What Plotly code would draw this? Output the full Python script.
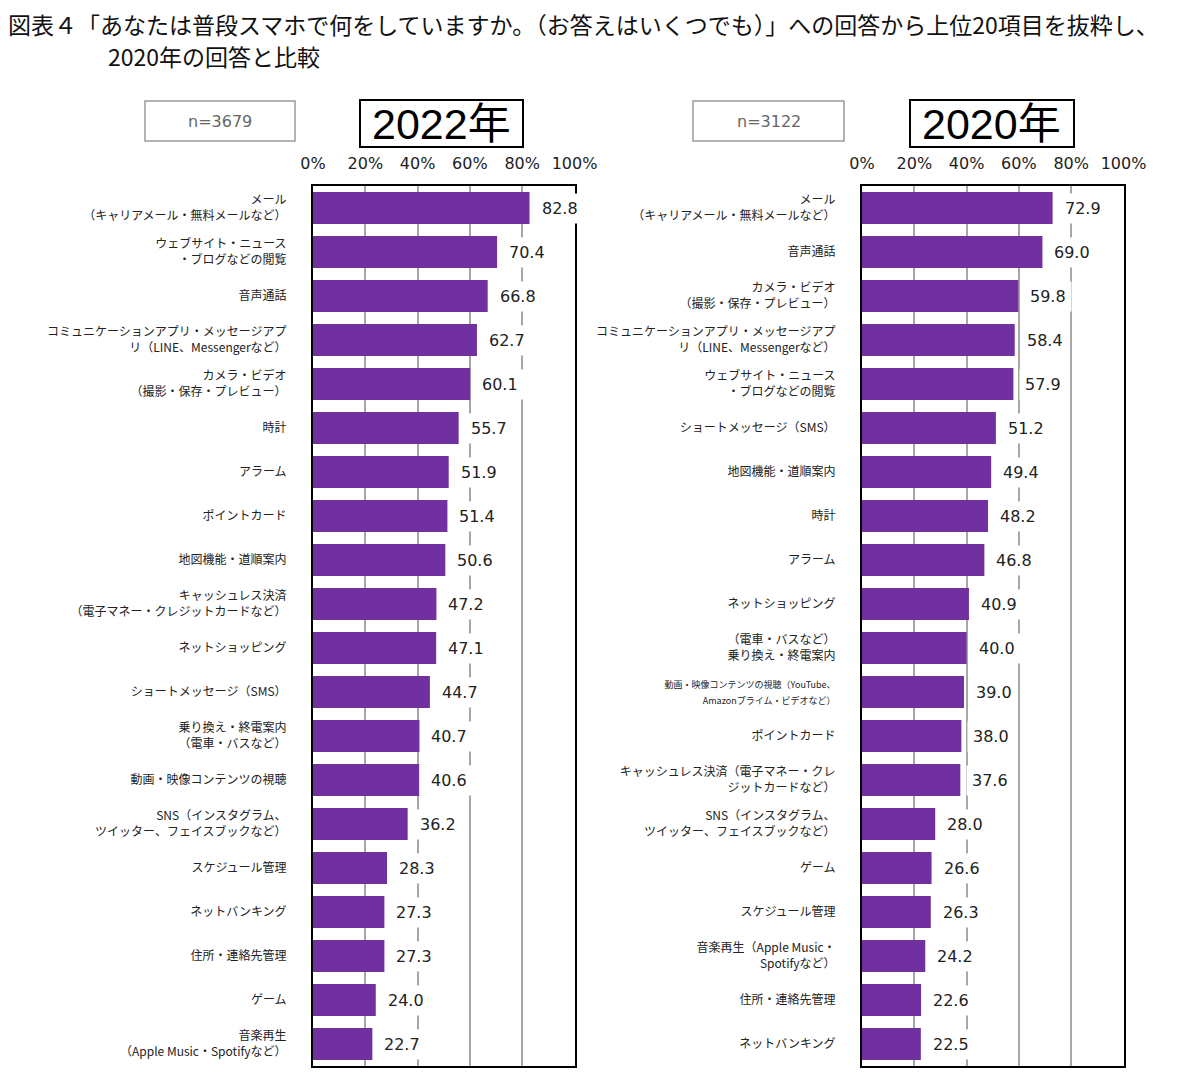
import plotly.graph_objects as go
from plotly.subplots import make_subplots

# The page has an 8px body margin; the figure is sized to fit inside it.
OFF = 8
W, H = 1200 - 2 * OFF, 1081 - 2 * OFF


def px(x):
    return (x - OFF) / W


def py(y):
    return 1 - (y - OFF) / H


labels_2022 = [
    "メール<br>（キャリアメール・無料メールなど）",
    "ウェブサイト・ニュース<br>・ブログなどの閲覧",
    "音声通話",
    "コミュニケーションアプリ・メッセージアプ<br>リ（LINE、Messengerなど）",
    "カメラ・ビデオ<br>（撮影・保存・プレビュー）",
    "時計",
    "アラーム",
    "ポイントカード",
    "地図機能・道順案内",
    "キャッシュレス決済<br>（電子マネー・クレジットカードなど）",
    "ネットショッピング",
    "ショートメッセージ（SMS）",
    "乗り換え・終電案内<br>（電車・バスなど）",
    "動画・映像コンテンツの視聴",
    "SNS（インスタグラム、<br>ツイッター、フェイスブックなど）",
    "スケジュール管理",
    "ネットバンキング",
    "住所・連絡先管理",
    "ゲーム",
    "音楽再生<br>（Apple Music・Spotifyなど）",
]
values_2022 = [82.8, 70.4, 66.8, 62.7, 60.1, 55.7, 51.9, 51.4, 50.6, 47.2,
               47.1, 44.7, 40.7, 40.6, 36.2, 28.3, 27.3, 27.3, 24.0, 22.7]

labels_2020 = [
    "メール<br>（キャリアメール・無料メールなど）",
    "音声通話",
    "カメラ・ビデオ<br>（撮影・保存・プレビュー）",
    "コミュニケーションアプリ・メッセージアプ<br>リ（LINE、Messengerなど）",
    "ウェブサイト・ニュース<br>・ブログなどの閲覧",
    "ショートメッセージ（SMS）",
    "地図機能・道順案内",
    "時計",
    "アラーム",
    "ネットショッピング",
    "（電車・バスなど）<br>乗り換え・終電案内",
    "<span style='font-size:9px'>動画・映像コンテンツの視聴（YouTube、</span><br><span style='font-size:9px'>Amazonプライム・ビデオなど）</span>",
    "ポイントカード",
    "キャッシュレス決済（電子マネー・クレ<br>ジットカードなど）",
    "SNS（インスタグラム、<br>ツイッター、フェイスブックなど）",
    "ゲーム",
    "スケジュール管理",
    "音楽再生（Apple Music・<br>Spotifyなど）",
    "住所・連絡先管理",
    "ネットバンキング",
]
values_2020 = [72.9, 69.0, 59.8, 58.4, 57.9, 51.2, 49.4, 48.2, 46.8, 40.9,
               40.0, 39.0, 38.0, 37.6, 28.0, 26.6, 26.3, 24.2, 22.6, 22.5]

x_ticks = [0, 20, 40, 60, 80, 100]
x_tick_text = ["0%", "20%", "40%", "60%", "80%", "100%"]
titles = ["2022年", "2020年"]
n_labels = ["n=3679", "n=3122"]

BAR = "#7030A0"
JP = "Noto Sans CJK JP"
NUM = "DejaVu Sans"

fig = make_subplots(rows=1, cols=2)

for col, (labs, vals) in enumerate([(labels_2022, values_2022), (labels_2020, values_2020)], start=1):
    fig.add_trace(go.Bar(
        x=vals, y=labs, orientation="h",
        marker=dict(color=BAR, line=dict(width=0)),
        hoverinfo="skip", showlegend=False,
    ), row=1, col=col)
    xa = "x" if col == 1 else "x2"
    ya = "y" if col == 1 else "y2"
    for lab, v in zip(labs, vals):
        fig.add_annotation(
            x=v, y=lab, xref=xa, yref=ya, text=f"{v:.1f}",
            showarrow=False, xanchor="left", yanchor="middle", xshift=6,
            bgcolor="white", borderpad=5,
            font=dict(family=NUM, size=16, color="#222"),
        )

ydom = [py(1066), py(186)]
xdoms = [[px(313), px(574.5)], [px(862), px(1123.5)]]

layout_axes = {}
for i, dom in enumerate(xdoms):
    suffix = "" if i == 0 else "2"
    layout_axes[f"xaxis{suffix}"] = dict(
        domain=dom, range=[0, 100], side="top", automargin=False,
        tickmode="array", tickvals=x_ticks, ticktext=x_tick_text, ticks="",
        tickfont=dict(family=NUM, size=16, color="#222"),
        showgrid=True, gridcolor="#a8a8a8", gridwidth=1.5,
        showline=True, linecolor="black", linewidth=2, mirror=True,
        zeroline=False, fixedrange=True, ticklabelstandoff=9,
    )
    layout_axes[f"yaxis{suffix}"] = dict(
        domain=ydom, autorange="reversed", automargin=False,
        showline=True, linecolor="black", linewidth=2, mirror=True,
        showgrid=False, ticks="", ticklabelstandoff=22,
        tickfont=dict(family=JP, size=12, color="#222"),
        fixedrange=True,
    )

fig.update_layout(
    width=W, height=H, autosize=False,
    margin=dict(l=0, r=0, t=0, b=0, pad=0),
    paper_bgcolor="white", plot_bgcolor="white",
    bargap=0.27,
    **layout_axes,
)

# Title
fig.add_annotation(
    xref="paper", yref="paper", x=px(6), y=py(24), xanchor="left", yanchor="middle",
    text="図表４「あなたは普段スマホで何をしていますか。（お答えはいくつでも）」への回答から上位20項目を抜粋し、",
    showarrow=False, font=dict(family=JP, size=23, color="#111"),
)
fig.add_annotation(
    xref="paper", yref="paper", x=px(106), y=py(56), xanchor="left", yanchor="middle",
    text="2020年の回答と比較",
    showarrow=False, font=dict(family=JP, size=23, color="#111"),
)

boxes_n = [(145, 295), (693, 844)]
boxes_y = [(360, 523), (910, 1074)]
for i in range(2):
    x0, x1 = boxes_n[i]
    fig.add_shape(type="rect", xref="paper", yref="paper",
                  x0=px(x0), x1=px(x1), y0=py(141), y1=py(101),
                  line=dict(color="#9a9a9a", width=1.5), fillcolor="white")
    fig.add_annotation(xref="paper", yref="paper", x=px((x0 + x1) / 2), y=py(121),
                       xanchor="center", yanchor="middle",
                       text=n_labels[i], showarrow=False,
                       font=dict(family=NUM, size=16, color="#666"))
    x0, x1 = boxes_y[i]
    fig.add_shape(type="rect", xref="paper", yref="paper",
                  x0=px(x0), x1=px(x1), y0=py(147), y1=py(100),
                  line=dict(color="black", width=2), fillcolor="white")
    fig.add_annotation(xref="paper", yref="paper", x=px((x0 + x1) / 2), y=py(124),
                       xanchor="center", yanchor="middle",
                       text=titles[i], showarrow=False,
                       font=dict(family="Liberation Sans, Noto Sans CJK JP", size=43, color="black"))

fig.write_html("out.html")
